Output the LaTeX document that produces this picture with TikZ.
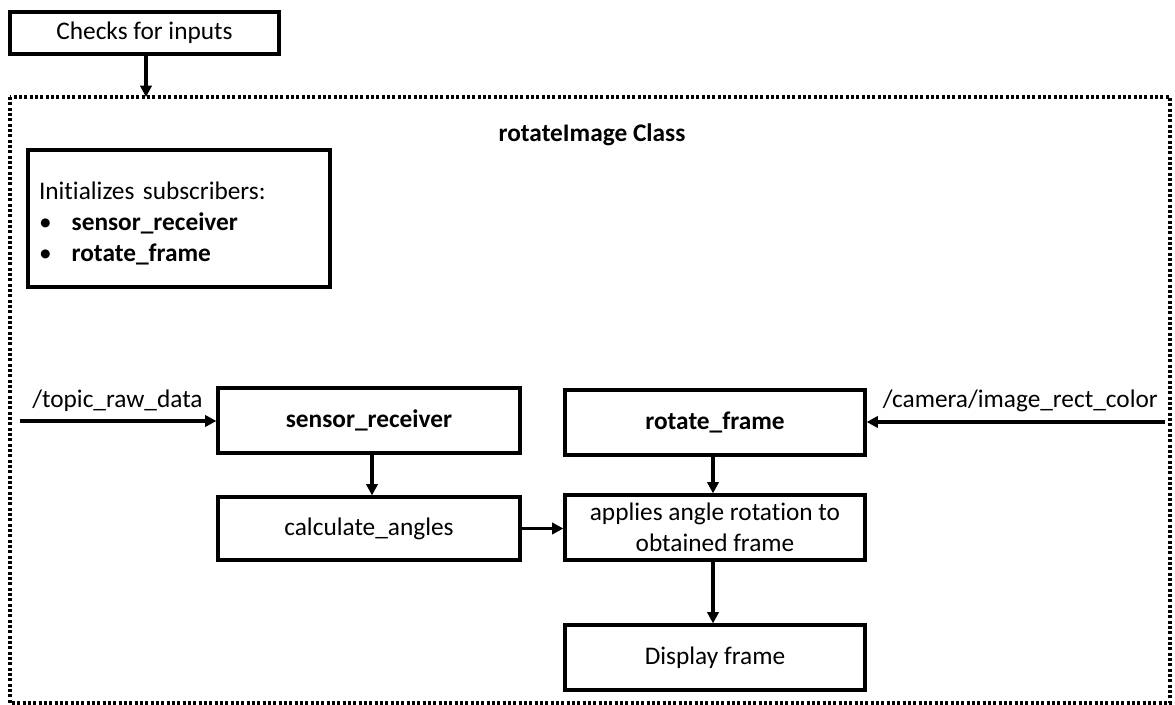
\documentclass[tikz,border=0pt]{standalone}
\usepackage{fontspec}
\setmainfont{Carlito}[Ligatures={NoCommon}]
\usetikzlibrary{arrows.meta}
\begin{document}
\begin{tikzpicture}[x=0.75pt,y=-0.75pt,
  box/.style={draw=black, line width=2.4pt, fill=white, inner sep=0pt, align=center,
    font=\fontsize{19}{23}\selectfont},
  lbl/.style={font=\fontsize{19}{23}\selectfont, inner sep=0pt},
  conn/.style={line width=2.4pt, -{Triangle[length=8.5pt,width=8.5pt]}},
  frame/.style={line width=2.4pt, dash pattern=on 2.2pt off 1.8pt}]
\useasboundingbox (0,0) rectangle (1175,705);
\node[box, minimum width=269*0.75pt, minimum height=42*0.75pt] (checks) at (144.5,33) {Checks for inputs};
\draw[frame] (10,97) rectangle (1170,703);
\coordinate (ftop) at (146,97);
\draw[conn] (checks.south -| ftop) -- (ftop);
\node[lbl, font=\fontsize{19}{23}\selectfont\bfseries] (title) at (592,135) {rotateImage Class};
\node[box, minimum width=302*0.75pt, minimum height=137*0.75pt, text width=210pt, align=left] (init) at (179,218.5)
  {\rule{0pt}{20.5pt}Initializes subscribers:\\
   \makebox[24.5pt][l]{•}\textbf{sensor\_receiver}\\
   \makebox[24.5pt][l]{•}\textbf{rotate\_frame}};
\node[box, minimum width=302*0.75pt, minimum height=65*0.75pt, font=\fontsize{19}{23}\selectfont\bfseries] (sr) at (369,420.5) {sensor\_receiver};
\node[box, minimum width=302*0.75pt, minimum height=63*0.75pt] (ca) at (369,528.5) {calculate\_angles};
\node[box, minimum width=300*0.75pt, minimum height=65*0.75pt, font=\fontsize{19}{23}\selectfont\bfseries] (rf) at (715,422.5) {rotate\_frame};
\node[box, minimum width=300*0.75pt, minimum height=65*0.75pt] (ap) at (715,527.5) {applies angle rotation to\\obtained frame};
\node[box, minimum width=300*0.75pt, minimum height=65*0.75pt] (df) at (715,657.5) {Display frame};
\coordinate (inL) at (20,421);
\coordinate (inR) at (1165,422);
\node[lbl, anchor=base west] (tl) at (32,408) {/topic\_raw\_data};
\node[lbl, anchor=base east] (tr) at (1158,408) {/camera/image\_rect\_color};
\draw[conn] (inL) -- (sr.west |- inL);
\draw[conn] (inR) -- (rf.east |- inR);
\coordinate (x1) at (372,0);
\coordinate (x2) at (713,0);
\draw[conn] (sr.south -| x1) -- (ca.north -| x1);
\draw[conn] (ca.east) -- (ap.west |- ca.east);
\draw[conn] (rf.south -| x2) -- (ap.north -| x2);
\draw[conn] (ap.south -| x2) -- (df.north -| x2);
\end{tikzpicture}
\end{document}
